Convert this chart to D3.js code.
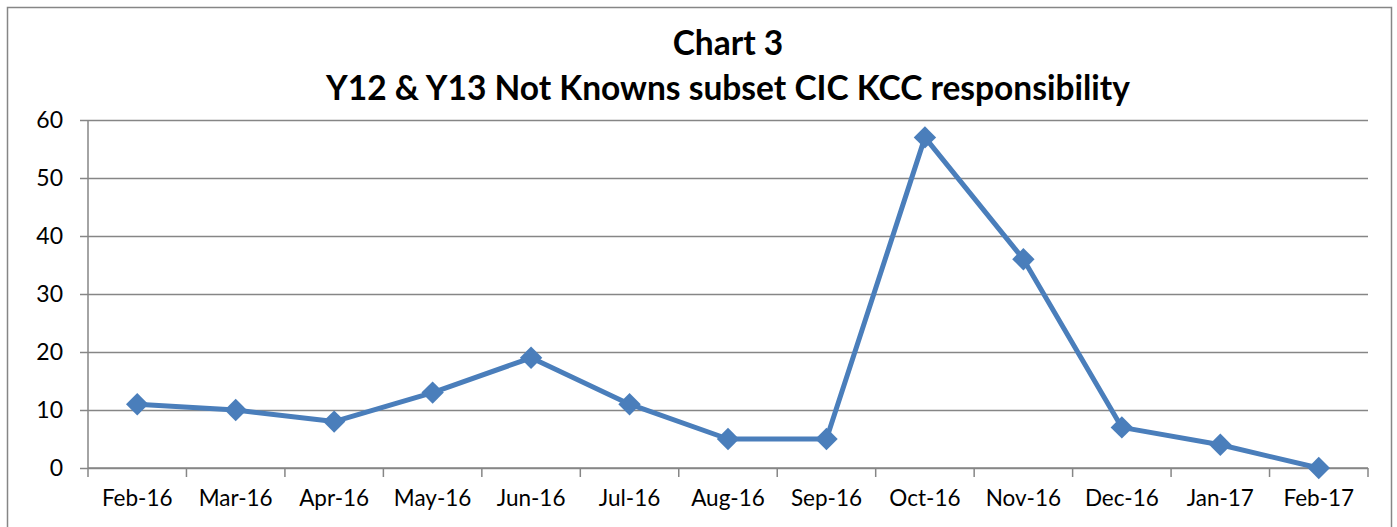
<!DOCTYPE html>
<html>
<head>
<meta charset="utf-8">
<script src="https://cdn.jsdelivr.net/npm/d3@7"></script>
<style>
  body { margin: 0; background: #fff; }
  svg, svg text { font-family: Lato, "Open Sans", sans-serif; }
</style>
</head>
<body>
<svg id="chart"></svg>
<script>
const months = ['Feb-16', 'Mar-16', 'Apr-16', 'May-16', 'Jun-16', 'Jul-16', 'Aug-16',
    'Sep-16', 'Oct-16', 'Nov-16', 'Dec-16', 'Jan-17', 'Feb-17'];
const counts = [11, 10, 8, 13, 19, 11, 5, 5, 57, 36, 7, 4, 0];
const yTicks = [0, 10, 20, 30, 40, 50, 60];
const titleLines = ['Chart 3', 'Y12 & Y13 Not Knowns subset CIC KCC responsibility'];

const W = 1397, H = 527;
const margin = { top: 120, right: 29, bottom: 59, left: 88 };

const svg = d3.select('#chart').attr('width', W).attr('height', H);

// outer frame
svg.append('rect')
    .attr('x', 7.5).attr('y', 7.5)
    .attr('width', 1384).attr('height', 540)
    .attr('fill', 'none').attr('stroke', '#868686').attr('stroke-width', 1.5);

const width = W - margin.left - margin.right;
const height = H - margin.top - margin.bottom;

const g = svg.append('g').attr('transform', `translate(${margin.left},${margin.top})`);

const x = d3.scaleBand().domain(months).range([0, width]);
const y = d3.scaleLinear().domain([0, 60]).range([height, 0]);

// gridlines + y axis
const yAxis = g.append('g')
    .call(d3.axisLeft(y).tickValues(yTicks).tickSize(8).tickPadding(17))
    .attr('font-family', null).attr('font-size', null);
yAxis.select('.domain').remove();
yAxis.selectAll('.tick line').attr('stroke', '#868686').attr('stroke-width', 1.5).attr('x1', width).attr('x2', -8);
yAxis.selectAll('.tick text').attr('font-size', 23).attr('fill', '#000');

g.append('line')
    .attr('x1', 0).attr('x2', 0).attr('y1', 0).attr('y2', height)
    .attr('stroke', '#868686').attr('stroke-width', 1.5);

// x axis with ticks at category boundaries
const xAxis = g.append('g').attr('transform', `translate(0,${height})`);
xAxis.append('line')
    .attr('x1', 0).attr('x2', width)
    .attr('stroke', '#868686').attr('stroke-width', 1.5);
const bounds = months.map(m => x(m)).concat([width]);
xAxis.selectAll('.bt')
    .data(bounds)
    .join('line')
    .attr('x1', d => d).attr('x2', d => d)
    .attr('y1', 0).attr('y2', 9)
    .attr('stroke', '#868686').attr('stroke-width', 1.5);
xAxis.selectAll('.lbl')
    .data(months)
    .join('text')
    .attr('x', d => x(d) + x.bandwidth() / 2)
    .attr('y', 38)
    .attr('text-anchor', 'middle')
    .attr('font-size', 22.5)
    .text(d => d);

// line
const cx = (d, i) => x(months[i]) + x.bandwidth() / 2;
const line = d3.line().x(cx).y(d => y(d));
g.append('path')
    .datum(counts)
    .attr('d', line)
    .attr('fill', 'none')
    .attr('stroke', '#4a7ebb')
    .attr('stroke-width', 5)
    .attr('stroke-linejoin', 'round');

g.selectAll('.pt')
    .data(counts)
    .join('path')
    .attr('d', d3.symbol().type(d3.symbolDiamond2).size(320))
    .attr('transform', (d, i) => `translate(${cx(d, i)},${y(d)})`)
    .attr('fill', '#4a7ebb');

// title
svg.selectAll('.title')
    .data(titleLines)
    .join('text')
    .attr('x', 728)
    .attr('y', (d, i) => 55 + i * 45)
    .attr('text-anchor', 'middle')
    .attr('font-size', 33.5)
    .attr('font-weight', 'bold')
    .text(d => d);
</script>
</body>
</html>
